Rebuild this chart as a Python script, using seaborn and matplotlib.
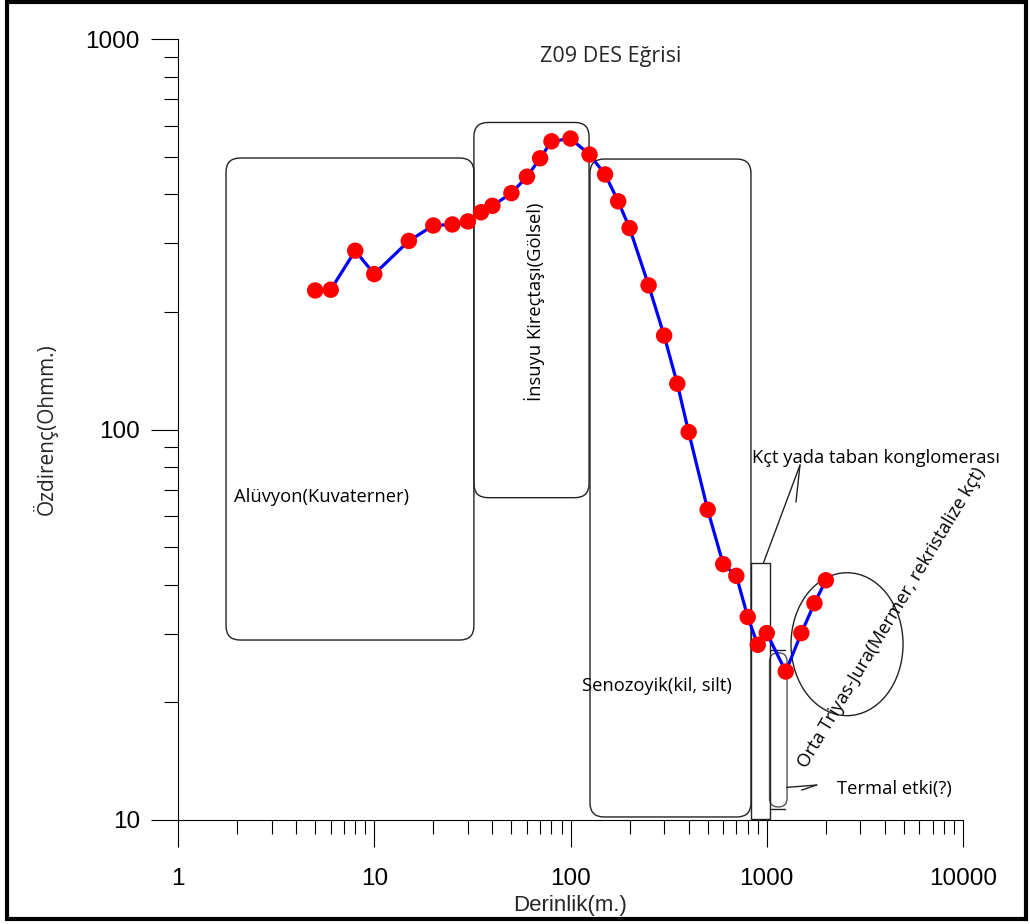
import matplotlib
matplotlib.use("Agg")
import numpy as np
import pandas as pd
import matplotlib.pyplot as plt
import seaborn as sns
from matplotlib import font_manager
from matplotlib.patches import FancyBboxPatch, Rectangle, Ellipse
from matplotlib.ticker import FixedLocator, FixedFormatter, NullFormatter

# VES sounding Z09: AB/2 depth (m) and apparent resistivity (ohm.m)
depth = [5, 6, 8, 10, 15, 20, 25, 30, 35, 40, 50, 60, 70, 80, 100,
         125, 150, 175, 200, 250, 300, 350, 400, 500, 600, 700, 800,
         900, 1000, 1250, 1500, 1750, 2000]
resistivity = [227, 228, 287, 250, 304, 333, 335, 341, 360, 374, 403,
               444, 495, 547, 556, 506, 450, 384, 328, 234, 174, 131,
               98.5, 62.3, 45.2, 42.2, 33.1, 28.1, 30.1, 24.0, 30.1,
               35.9, 41.1]

x_ticks = [1, 10, 100, 1000, 10000]
x_tick_labels = ["1", "10", "100", "1000", "10000"]
y_ticks = [10, 100, 1000]
y_tick_labels = ["10", "100", "1000"]

title = "Z09 DES Eğrisi"
x_label = "Derinlik(m.)"
y_label = "Özdirenç(Ohmm.)"

sns.set_theme(style="white")

available = {f.name for f in font_manager.fontManager.ttflist}
tick_font = "Liberation Sans Narrow" if "Liberation Sans Narrow" in available else "Liberation Sans"
note_font = ["Open Sans", "DejaVu Sans"]
plt.rcParams["font.family"] = note_font

df = pd.DataFrame({"depth": depth, "resistivity": resistivity})

fig = plt.figure(figsize=(10.30, 9.24), dpi=100)
ax = fig.add_axes([178 / 1030, 1 - 820 / 924, 785 / 1030, 781 / 924])

sns.lineplot(data=df, x="depth", y="resistivity", ax=ax, color="#0000ff",
             lw=2.3, sort=False, estimator=None, zorder=3)
sns.scatterplot(data=df, x="depth", y="resistivity", ax=ax, color="#ff0000",
                s=140, edgecolor="none", linewidth=0, zorder=4)

ax.set_xscale("log")
ax.set_yscale("log")
ax.set_xlim(1, 10000)
ax.set_ylim(10, 1000)
ax.set_facecolor("white")
ax.grid(False)

for side in ("top", "right"):
    ax.spines[side].set_visible(False)
for side in ("left", "bottom"):
    ax.spines[side].set_color("black")
    ax.spines[side].set_linewidth(0.8)

minor_x = [m * 10 ** e for e in range(0, 4) for m in range(2, 10)]
minor_y = [m * 10 ** e for e in range(1, 3) for m in range(2, 10)]
ax.xaxis.set_major_locator(FixedLocator(x_ticks))
ax.xaxis.set_major_formatter(FixedFormatter(x_tick_labels))
ax.xaxis.set_minor_locator(FixedLocator(minor_x))
ax.xaxis.set_minor_formatter(NullFormatter())
ax.yaxis.set_major_locator(FixedLocator(y_ticks))
ax.yaxis.set_major_formatter(FixedFormatter(y_tick_labels))
ax.yaxis.set_minor_locator(FixedLocator(minor_y))
ax.yaxis.set_minor_formatter(NullFormatter())

ax.tick_params(which="both", bottom=True, left=True, top=False, right=False)
ax.tick_params(which="major", direction="out", length=19.5, width=0.8,
               color="black", labelcolor="black", labelsize=17.5)
ax.tick_params(which="minor", direction="out", length=10, width=0.8,
               color="black")
ax.tick_params(axis="x", which="major", pad=15)
ax.tick_params(axis="y", which="major", pad=8)
for lab in ax.get_xticklabels() + ax.get_yticklabels():
    lab.set_fontfamily(tick_font)

ax.set_xlabel(x_label, fontsize=16, family=tick_font)
ax.set_ylabel(y_label, fontsize=15, family=note_font)
ax.xaxis.set_label_coords(0.5, -0.096)
ax.yaxis.set_label_coords(-0.153, 0.5)

# map (depth, resistivity) to axes fractions for the layout shapes
to_axes = ax.transScale + ax.transLimits


def frac(x, y):
    return to_axes.transform((x, y))


def rounded_box(x0, x1, y0, y1, radius=0.018, ec="#222222"):
    fx0, fy0 = frac(x0, y0)
    fx1, fy1 = frac(x1, y1)
    box = FancyBboxPatch((fx0, fy0), fx1 - fx0, fy1 - fy0,
                         boxstyle=f"round,pad=0,rounding_size={radius}",
                         transform=ax.transAxes, fill=False,
                         ec=ec, lw=1.0, zorder=2, clip_on=False)
    ax.add_patch(box)


# lithology zones
rounded_box(1.757, 32.2, 28.9, 495.7)       # alluvium
rounded_box(32.2, 124.3, 66.9, 611.3)       # lacustrine limestone
rounded_box(125.7, 831, 10.18, 492.7)       # Cenozoic clay/silt
rounded_box(1033, 1269, 10.8, 26.8, radius=0.011, ec="#555555")  # thermal

fx0, fy0 = frac(831, 10.03)
fx1, fy1 = frac(1039, 45.4)
ax.add_patch(Rectangle((fx0, fy0), fx1 - fx0, fy1 - fy0, transform=ax.transAxes,
                       fill=False, ec="#222222", lw=1.0, zorder=2))

ex, ey = frac(2565, 28.2)
ax.add_patch(Ellipse((ex, ey), 0.1427, 0.183, transform=ax.transAxes,
                     fill=False, ec="#222222", lw=1.0, zorder=2))

# caps on the thermal-effect zone
ax.plot([1033, 1240], [27.2, 27.2], color="#222222", lw=1.0, zorder=2)
ax.plot([1033, 1240], [10.7, 10.7], color="#222222", lw=1.0, zorder=2)

# leader lines
ax.plot([960, 1477], [45.4, 81.1], color="#222222", lw=1.0, zorder=2)
ax.plot([1409, 1477], [65.2, 81.1], color="#222222", lw=1.0, zorder=2)
ax.plot([1264, 1797], [12.12, 12.29], color="#222222", lw=1.0, zorder=2)
ax.plot([1507, 1797], [11.93, 12.29], color="#222222", lw=1.0, zorder=2)

note = dict(fontsize=13.2, color="black", family=note_font, zorder=5)
ax.text(160, 900, title, ha="center", va="center", fontsize=15.5,
        family=note_font)
ax.text(1.93, 67.1, "Alüvyon(Kuvaterner)", ha="left", va="center", **note)
ax.text(65.9, 212, "İnsuyu Kireçtaşı(Gölsel)", ha="center", va="center",
        rotation=90, **note)
ax.text(114.4, 22.0, "Senozoyik(kil, silt)", ha="left", va="center", **note)
ax.text(841, 84.5, "Kçt yada taban konglomerası", ha="left", va="center",
        clip_on=False, **note)
ax.text(2280, 12.0, "Termal etki(?)", ha="left", va="center",
        clip_on=False, **note)
ax.text(4347, 32.9, "Orta Triyas-Jura(Mermer, rekristalize kçt)",
        ha="center", va="center", rotation=59, rotation_mode="anchor",
        clip_on=False, **note)

# page frame
fig.add_artist(Rectangle((7 / 1030, 5 / 924), 1019 / 1030, 917 / 924,
                         transform=fig.transFigure, fill=False,
                         ec="black", lw=3.0))

fig.savefig("out.png", dpi=100, facecolor="white")
